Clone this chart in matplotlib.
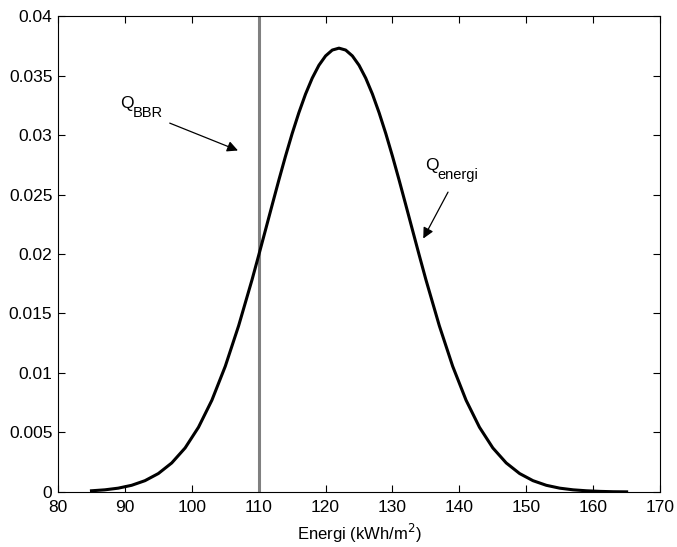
import matplotlib
matplotlib.use("Agg")
import matplotlib.pyplot as plt

# energy distribution (kWh/m2 -> density)
energi = [85, 87, 89, 91, 93, 95, 97, 99, 101, 103, 105, 107, 109,
          110, 111, 112, 113, 114, 115, 116, 117, 118, 119, 120, 121, 122,
          123, 124, 125, 126, 127, 128, 129, 130, 131, 132, 133, 134,
          135, 137, 139, 141, 143, 145, 147, 149, 151, 153, 155, 157, 159,
          161, 163, 165]
density = [0.0001, 0.00018, 0.00032, 0.00056, 0.00095, 0.00155, 0.00244,
           0.0037, 0.00544, 0.00771, 0.01056, 0.01397, 0.01783,
           0.01989, 0.02199, 0.0241, 0.02619, 0.02821, 0.03012, 0.03187,
           0.03344, 0.03478, 0.03586, 0.03665, 0.03714, 0.0373,
           0.03714, 0.03665, 0.03586, 0.03478, 0.03344, 0.03187, 0.03012,
           0.02821, 0.02619, 0.0241, 0.02199, 0.01989,
           0.01783, 0.01397, 0.01056, 0.00771, 0.00544, 0.0037, 0.00244,
           0.00155, 0.00095, 0.00056, 0.00032, 0.00018, 0.0001,
           0.00005, 0.00002, 0.00001]
q_bbr = 110

plt.rcParams["font.family"] = ["Liberation Sans", "DejaVu Sans"]

fig = plt.figure(figsize=(6.77, 5.47), dpi=100)
ax = fig.add_axes([0.0857, 0.1006, 0.975 - 0.0857, 0.9707 - 0.1006])

ax.axvline(q_bbr, color="#808080", lw=2.2)
ax.plot(energi, density, color="k", lw=2.2)

ax.set_xlim(80, 170)
ax.set_ylim(0, 0.04)
ax.set_xticks(range(80, 171, 10))
ax.set_yticks([0, 0.005, 0.01, 0.015, 0.02, 0.025, 0.03, 0.035, 0.04])
ax.set_yticklabels(["0", "0.005", "0.01", "0.015", "0.02", "0.025", "0.03",
                    "0.035", "0.04"])
ax.tick_params(direction="in", top=True, right=True, length=5, width=0.8,
               labelsize=12.5, colors="k")
ax.tick_params(axis="x", pad=5.5)
ax.tick_params(axis="y", pad=4)
for s in ax.spines.values():
    s.set_linewidth(0.8)
ax.set_xlabel("Energi (kWh/m$^2$)", fontsize=12, labelpad=5)

arrow = dict(arrowstyle="-|>", color="k", lw=0.9, mutation_scale=16,
             shrinkA=0, shrinkB=0)


def label(x, y, sub):
    ax.text(x, y, "Q", fontsize=12.5, va="baseline")
    ax.annotate(sub, xy=(x, y), xytext=(9, -7), textcoords="offset points",
                fontsize=10.5, va="baseline")


ax.annotate("", xy=(106.9, 0.0287), xytext=(96.7, 0.0310), arrowprops=arrow)
label(89.27, 0.0323, "BBR")
ax.annotate("", xy=(134.6, 0.0213), xytext=(138.3, 0.0252), arrowprops=arrow)
label(134.86, 0.0271, "energi")

fig.savefig("out.png", dpi=100)
